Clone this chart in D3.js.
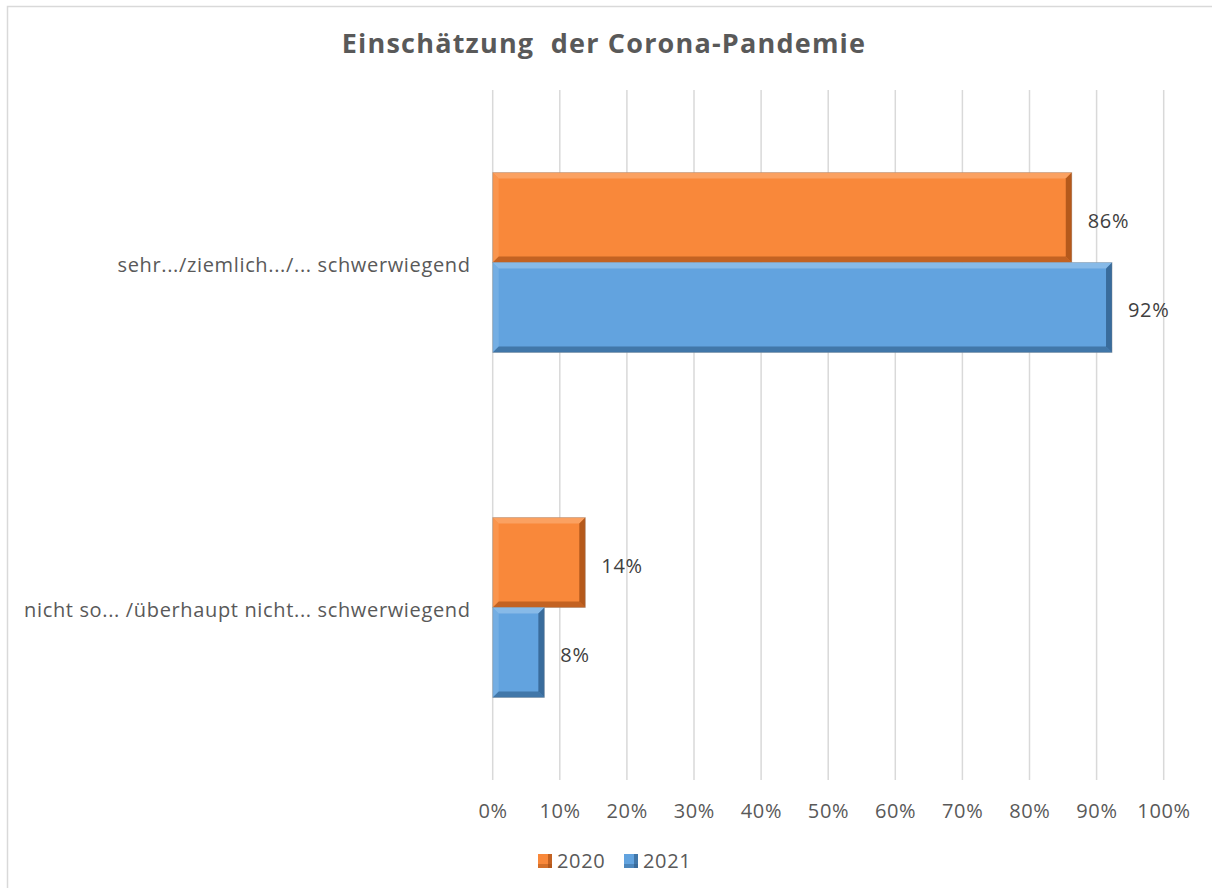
<!DOCTYPE html>
<html><head><meta charset="utf-8">
<script src="https://cdn.jsdelivr.net/npm/d3@7"></script>
<style>body{margin:0;background:#fff}svg{display:block}</style>
</head><body>
<script>
const categories = ["sehr.../ziemlich.../... schwerwiegend", "nicht so... /überhaupt nicht... schwerwiegend"];
const seriesNames = ["2020", "2021"];
const values2020 = [86.3, 13.8];
const values2021 = [92.3, 7.7];
const labels2020 = ["86%", "14%"];
const labels2021 = ["92%", "8%"];
const ticks = [0,10,20,30,40,50,60,70,80,90,100];
const colors = ["#F9883A", "#62A3DF"];
const darkColors = ["#9E4A12", "#2C5A86"];
const lightColors = ["#FCB27C", "#A0C9EF"];

const W = 1212, H = 888;
const svg = d3.select("body").append("svg").attr("width", W).attr("height", H);
const font = "'Open Sans', Lato, sans-serif";
const fs = 20;
const ls = 0.65;

// outer frame
svg.append("rect").attr("x", 7.5).attr("y", 6.5).attr("width", 1230).attr("height", 900)
  .attr("fill", "none").attr("stroke", "#D9D9D9").attr("stroke-width", 1.5);

svg.append("text").attr("x", 604).attr("y", 53).attr("text-anchor", "middle")
  .attr("font-family", font).attr("font-weight", "bold").attr("font-size", 27)
  .attr("letter-spacing", 1.2)
  .attr("fill", "#595959").attr("xml:space","preserve").text("Einschätzung  der Corona-Pandemie");

const x = d3.scaleLinear().domain([0, 100]).range([492.7, 1163.7]);
const y = d3.scaleBand().domain(categories).range([90, 780]).paddingInner(0).paddingOuter(0);
const inner = d3.scaleBand().domain(seriesNames).range([0, y.bandwidth()]).paddingOuter(0.917).paddingInner(0);

// gridlines
svg.append("g").selectAll("line").data(ticks).join("line")
  .attr("x1", d => x(d)).attr("x2", d => x(d)).attr("y1", 90).attr("y2", 780)
  .attr("stroke", "#D9D9D9").attr("stroke-width", 1.5);

// axis tick labels
svg.append("g").selectAll("text").data(ticks).join("text")
  .attr("x", d => x(d) + ls/2).attr("y", 818).attr("text-anchor", "middle")
  .attr("font-family", font).attr("font-size", fs).attr("letter-spacing", ls).attr("fill", "#595959")
  .text(d => d + "%");

// category labels
svg.append("g").selectAll("text").data(categories).join("text")
  .attr("x", 470 + ls).attr("y", d => y(d) + y.bandwidth()/2 + 9).attr("text-anchor", "end")
  .attr("font-family", font).attr("font-size", fs).attr("letter-spacing", ls).attr("fill", "#595959")
  .text(d => d);

const bars = [];
categories.forEach((c, i) => {
  bars.push({cat: c, s: 0, v: values2020[i], lab: labels2020[i]});
  bars.push({cat: c, s: 1, v: values2021[i], lab: labels2021[i]});
});

const bev = 6;
const g = svg.append("g");
bars.forEach(b => {
  const x0 = x(0), x1 = x(b.v);
  const y0 = y(b.cat) + inner(seriesNames[b.s]);
  const y1 = y0 + inner.bandwidth();
  const bg = g.append("g");
  bg.append("rect").attr("x", x0).attr("y", y0).attr("width", x1 - x0).attr("height", y1 - y0)
    .attr("fill", colors[b.s]);
  bg.append("polygon").attr("points", [[x0,y0],[x1,y0],[x1-bev,y0+bev],[x0+bev,y0+bev]].join(" "))
    .attr("fill", lightColors[b.s]).attr("opacity", 0.6);
  bg.append("polygon").attr("points", [[x0,y0],[x0+bev,y0+bev],[x0+bev,y1-bev],[x0,y1]].join(" "))
    .attr("fill", lightColors[b.s]).attr("opacity", 0.3);
  bg.append("polygon").attr("points", [[x1,y0],[x1,y1],[x1-bev,y1-bev],[x1-bev,y0+bev]].join(" "))
    .attr("fill", darkColors[b.s]).attr("opacity", 0.75);
  bg.append("polygon").attr("points", [[x0,y1],[x0+bev,y1-bev],[x1-bev,y1-bev],[x1,y1]].join(" "))
    .attr("fill", darkColors[b.s]).attr("opacity", 0.6);
  bg.append("rect").attr("x", x0).attr("y", y0).attr("width", x1 - x0).attr("height", y1 - y0)
    .attr("fill", "none").attr("stroke", "#8a8a8a").attr("stroke-opacity", 0.35).attr("stroke-width", 1);
  g.append("text").attr("x", x1 + 16).attr("y", (y0 + y1)/2 + 10)
    .attr("font-family", font).attr("font-size", fs).attr("letter-spacing", ls).attr("fill", "#404040").text(b.lab);
});

// legend
const lg = svg.append("g");
const legX = [538, 624];
seriesNames.forEach((s, i) => {
  lg.append("rect").attr("x", legX[i]).attr("y", 854).attr("width", 14).attr("height", 14).attr("fill", colors[i]);
  lg.append("rect").attr("x", legX[i]+10).attr("y", 854).attr("width", 4).attr("height", 14).attr("fill", darkColors[i]).attr("opacity",0.6);
  lg.append("rect").attr("x", legX[i]).attr("y", 864).attr("width", 14).attr("height", 4).attr("fill", darkColors[i]).attr("opacity",0.4);
  lg.append("text").attr("x", legX[i] + 19).attr("y", 868).attr("font-family", font).attr("font-size", fs)
    .attr("letter-spacing", ls).attr("fill", "#595959").text(s);
});
</script>
</body></html>
